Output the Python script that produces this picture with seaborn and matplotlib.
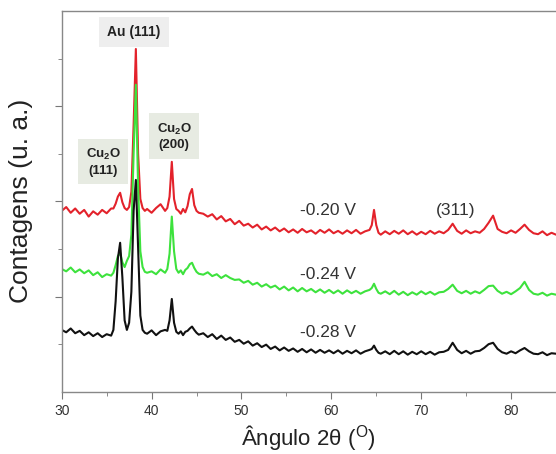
import numpy as np
import pandas as pd
import matplotlib
matplotlib.use("Agg")
import matplotlib.pyplot as plt
import seaborn as sns

# 2-theta grid (finer around the peaks)
two_theta = np.concatenate([
    np.arange(30.0, 35.51, 0.5),
    np.arange(35.75, 39.51, 0.25),
    np.arange(40.0, 41.51, 0.5),
    np.arange(41.75, 45.26, 0.25),
    np.arange(45.75, 64.26, 0.5),
    np.arange(64.5, 65.51, 0.25),
    np.arange(66.0, 85.01, 0.5),
])

# counts (a.u.), -0.20 V
red = [3.80, 3.88, 3.76, 3.85, 3.74, 3.82, 3.68, 3.79, 3.72, 3.82, 3.75, 3.85,
       3.85, 3.95, 4.10, 4.18, 3.98, 3.86, 3.82, 3.88, 4.20, 5.60, 7.20, 5.00, 4.05, 3.86, 3.80, 3.84,
       3.76, 3.86, 3.94, 3.80,
       3.86, 4.10, 4.83, 4.05, 3.84, 3.80, 3.74, 3.84, 3.77, 3.90, 4.15, 4.26, 3.92, 3.80, 3.76,
       3.74, 3.68, 3.73, 3.62, 3.69, 3.58, 3.63, 3.52, 3.59, 3.49,
       3.53, 3.45, 3.51, 3.41, 3.47, 3.39, 3.45, 3.37, 3.43, 3.35,
       3.41, 3.34, 3.42, 3.35, 3.39, 3.32, 3.40, 3.34, 3.41, 3.33,
       3.38, 3.32, 3.39, 3.33, 3.40, 3.32, 3.37, 3.40,
       3.50, 3.82, 3.50, 3.34, 3.30,
       3.37, 3.31, 3.38, 3.32, 3.39, 3.31, 3.37, 3.30, 3.36, 3.31,
       3.38, 3.32, 3.37, 3.33, 3.40, 3.53, 3.38, 3.32, 3.39, 3.33,
       3.37, 3.34, 3.42, 3.55, 3.70, 3.42, 3.36, 3.33, 3.39, 3.34,
       3.42, 3.51, 3.40, 3.33, 3.31, 3.37, 3.29, 3.34, 3.30]

# -0.24 V
green = [2.58, 2.53, 2.61, 2.51, 2.57, 2.49, 2.55, 2.45, 2.51, 2.41, 2.47, 2.44,
         2.50, 2.66, 2.85, 2.92, 2.72, 2.62, 2.75, 2.85, 3.30, 5.00, 6.45, 4.30, 2.95, 2.62, 2.52, 2.50,
         2.53, 2.47, 2.57, 2.50,
         2.58, 2.90, 3.68, 2.95, 2.58, 2.50, 2.55, 2.47, 2.56, 2.60, 2.68, 2.71, 2.60, 2.52, 2.48,
         2.46, 2.51, 2.43, 2.47, 2.39, 2.45, 2.39, 2.35, 2.36, 2.29,
         2.33, 2.25, 2.29, 2.21, 2.26, 2.19, 2.23, 2.15, 2.21, 2.13,
         2.19, 2.11, 2.18, 2.11, 2.16, 2.09, 2.15, 2.08, 2.14, 2.07,
         2.13, 2.06, 2.13, 2.07, 2.12, 2.06, 2.11, 2.14,
         2.18, 2.27, 2.16, 2.08, 2.06,
         2.11, 2.05, 2.12, 2.04, 2.10, 2.03, 2.09, 2.04, 2.11, 2.05,
         2.10, 2.04, 2.09, 2.10, 2.16, 2.25, 2.12, 2.07, 2.12, 2.06,
         2.11, 2.07, 2.14, 2.22, 2.23, 2.12, 2.06, 2.10, 2.05, 2.11,
         2.18, 2.31, 2.14, 2.06, 2.04, 2.08, 2.02, 2.06, 2.04]

# -0.28 V
black = [1.30, 1.25, 1.33, 1.23, 1.28, 1.19, 1.25, 1.17, 1.23, 1.15, 1.21, 1.18,
         1.30, 1.90, 2.80, 3.13, 2.40, 1.50, 1.30, 1.45, 2.10, 3.80, 4.45, 3.00, 1.60, 1.30, 1.24, 1.22,
         1.29, 1.19, 1.27, 1.30,
         1.28, 1.50, 1.95, 1.45, 1.26, 1.22, 1.27, 1.19, 1.26, 1.28, 1.33, 1.37, 1.30, 1.24, 1.20,
         1.23, 1.15, 1.21, 1.11, 1.18, 1.09, 1.14, 1.05, 1.09, 1.01,
         1.06, 0.97, 1.02, 0.94, 0.99, 0.90, 0.95, 0.87, 0.93, 0.86,
         0.91, 0.84, 0.90, 0.83, 0.89, 0.82, 0.88, 0.82, 0.87, 0.81,
         0.87, 0.80, 0.86, 0.81, 0.87, 0.80, 0.85, 0.88,
         0.90, 0.97, 0.88, 0.82, 0.80,
         0.85, 0.79, 0.86, 0.79, 0.85, 0.78, 0.84, 0.79, 0.85, 0.79,
         0.84, 0.78, 0.83, 0.84, 0.88, 1.03, 0.88, 0.81, 0.86, 0.80,
         0.85, 0.86, 0.92, 1.00, 1.03, 0.90, 0.83, 0.80, 0.85, 0.81,
         0.87, 0.92, 0.85, 0.80, 0.79, 0.83, 0.77, 0.81, 0.80]

series_names = ["-0.20 V", "-0.24 V", "-0.28 V"]
series_colors = ["#e3222b", "#3de23d", "#111111"]

df = pd.DataFrame({
    "theta": np.tile(two_theta, 3),
    "counts": red + green + black,
    "potential": np.repeat(series_names, len(two_theta)),
})

sns.set_style("ticks")
plt.rcParams["font.family"] = ["Liberation Sans", "DejaVu Sans"]
plt.rcParams["mathtext.fontset"] = "custom"
plt.rcParams["mathtext.rm"] = "Liberation Sans"
plt.rcParams["mathtext.bf"] = "Liberation Sans:bold"

fig = plt.figure(figsize=(5.56, 4.54), dpi=100)
ax = fig.add_axes([0.111, 0.137, 0.889, 0.839])

sns.lineplot(data=df, x="theta", y="counts", hue="potential", palette=series_colors,
             hue_order=series_names, sort=False, estimator=None, linewidth=1.5,
             legend=False, ax=ax)

ax.set_xlim(30, 85)
ax.set_ylim(0, 8)
ax.set_xticks([30, 40, 50, 60, 70, 80])
ax.set_xticks(np.arange(35, 85, 10), minor=True)
ax.set_yticks([2, 4, 6])
ax.set_yticks([1, 3, 5, 7], minor=True)
ax.set_yticklabels([])
ax.tick_params(axis="both", which="major", length=5, color="#777777", labelsize=10,
               labelcolor="#333333", direction="out")
ax.tick_params(axis="both", which="minor", length=3, color="#777777", direction="out")

for side in ["left", "bottom", "top"]:
    ax.spines[side].set_color("#888888")
    ax.spines[side].set_linewidth(1.0)
ax.spines["right"].set_visible(False)

ax.set_xlabel("Ângulo 2θ ($^{\\mathrm{O}}$)", fontsize=16, color="#222222", labelpad=4)
ax.set_ylabel("Contagens (u. a.)", fontsize=19, color="#222222", labelpad=12)

# series labels
label_x = [59.6, 59.6, 59.6]
label_y = [3.80, 2.46, 1.24]
for name, lx, ly in zip(series_names, label_x, label_y):
    ax.text(lx, ly, name, fontsize=12.5, color="#333333", ha="center", va="center")
ax.text(73.8, 3.80, "(311)", fontsize=12.5, color="#333333", ha="center", va="center")

# peak boxes
ax.text(38.0, 7.56, "Au (111)", fontsize=10, fontweight="bold", color="#222222",
        ha="center", va="center",
        bbox=dict(boxstyle="square,pad=0.6", fc="#eeeeee", ec="none"))
ax.text(34.6, 4.83, "Cu$_\\mathbf{2}$O\n(111)", fontsize=9.5, fontweight="bold", color="#222222",
        ha="center", va="center", linespacing=1.3,
        bbox=dict(boxstyle="square,pad=0.55", fc="#e7ebe2", ec="none"))
ax.text(42.5, 5.36, "Cu$_\\mathbf{2}$O\n(200)", fontsize=9.5, fontweight="bold", color="#222222",
        ha="center", va="center", linespacing=1.3,
        bbox=dict(boxstyle="square,pad=0.55", fc="#e7ebe2", ec="none"))

fig.savefig("out.png", dpi=100)
